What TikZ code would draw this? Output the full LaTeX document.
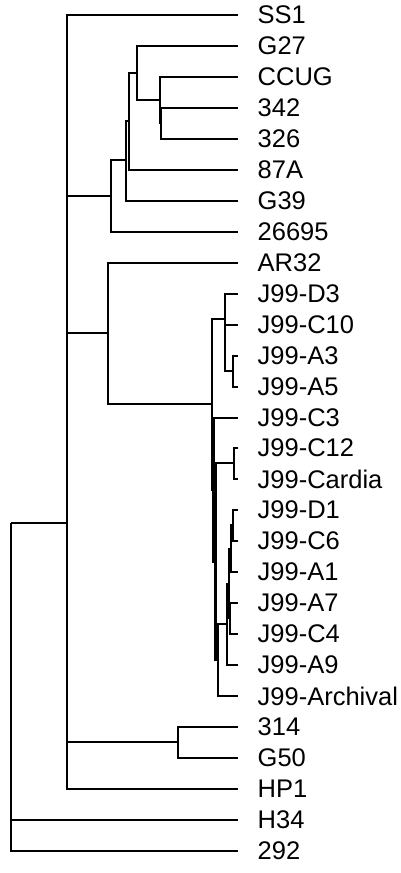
\documentclass[tikz,border=0pt]{standalone}
\usepackage{fontspec}
\setmainfont{Liberation Sans}
\tikzstyle{leaf} = [anchor=west, inner xsep=19.5pt, inner ysep=0pt, font=\fontsize{25.5}{30}\selectfont]
\tikzstyle{branch} = [line width=2.4pt]
\begin{document}
\begin{tikzpicture}[x=1pt, y=-1pt]
    \useasboundingbox (0,0) rectangle (400,873);

    % leaves
    \node (ss1) [leaf] at (238,15) {SS1};
    \node (g27) [leaf] at (238,46) {G27};
    \node (ccug) [leaf] at (238,77) {CCUG};
    \node (s342) [leaf] at (238,108) {342};
    \node (s326) [leaf] at (238,139) {326};
    \node (s87a) [leaf] at (238,170) {87A};
    \node (g39) [leaf] at (238,201) {G39};
    \node (s26695) [leaf] at (238,232) {26695};
    \node (ar32) [leaf] at (238,263) {AR32};
    \node (jd3) [leaf] at (238,294) {J99-D3};
    \node (jc10) [leaf] at (238,325) {J99-C10};
    \node (ja3) [leaf] at (238,356) {J99-A3};
    \node (ja5) [leaf] at (238,387) {J99-A5};
    \node (jc3) [leaf] at (238,418) {J99-C3};
    \node (jc12) [leaf] at (238,448) {J99-C12};
    \node (jcard) [leaf] at (238,479) {J99-Cardia};
    \node (jd1) [leaf] at (238,510) {J99-D1};
    \node (jc6) [leaf] at (238,541) {J99-C6};
    \node (ja1) [leaf] at (238,572) {J99-A1};
    \node (ja7) [leaf] at (238,603) {J99-A7};
    \node (jc4) [leaf] at (238,634) {J99-C4};
    \node (ja9) [leaf] at (238,665) {J99-A9};
    \node (jarch) [leaf] at (238,696) {J99-Archival};
    \node (s314) [leaf] at (238,727) {314};
    \node (g50) [leaf] at (238,758) {G50};
    \node (hp1) [leaf] at (238,789) {HP1};
    \node (h34) [leaf] at (238,820) {H34};
    \node (s292) [leaf] at (238,851) {292};

    % internal nodes
    \coordinate (root) at (11,523);
    \coordinate (nA) at (67,523);
    \coordinate (nB) at (111,196);
    \coordinate (nE1) at (126,160);
    \coordinate (nE2) at (129,121);
    \coordinate (nF) at (137,73);
    \coordinate (nG) at (160,100);
    \coordinate (nG2) at (161,123);
    \coordinate (nC) at (108,333);
    \coordinate (nH) at (212,404);
    \coordinate (nJ1) at (225,319);
    \coordinate (nJ3) at (233,371);
    \coordinate (nH2) at (213.5,490);
    \coordinate (nH2b) at (215.5,562);
    \coordinate (nK) at (234,463);
    \coordinate (nH3) at (218,660);
    \coordinate (nL) at (227,624);
    \coordinate (nM) at (229,584);
    \coordinate (nO) at (230,618);
    \coordinate (nP2) at (231,549);
    \coordinate (nP) at (233,525);
    \coordinate (nD) at (178,742);

    % branches
    \draw [branch] (root) -- (nA);
    \draw [branch] (root) |- (h34);
    \draw [branch] (root) |- (s292);
    \draw [branch] (nA) |- (ss1);
    \draw [branch] (nA) |- (nB);
    \draw [branch] (nA) |- (nC);
    \draw [branch] (nA) |- (nD);
    \draw [branch] (nA) |- (hp1);
    \draw [branch] (nB) |- (nE1);
    \draw [branch] (nB) |- (s26695);
    \draw [branch] (nE1) |- (nE2);
    \draw [branch] (nE1) |- (g39);
    \draw [branch] (nE2) |- (nF);
    \draw [branch] (nE2) |- (s87a);
    \draw [branch] (nF) |- (g27);
    \draw [branch] (nF) |- (nG);
    \draw [branch] (nG) |- (ccug);
    \draw [branch] (nG) |- (nG2);
    \draw [branch] (nG2) |- (s342);
    \draw [branch] (nG2) |- (s326);
    \draw [branch] (nC) |- (ar32);
    \draw [branch] (nC) |- (nH);
    \draw [branch] (nH) |- (nJ1);
    \draw [branch] (nH) |- (nH2);
    \draw [branch] (nJ1) |- (jd3);
    \draw [branch] (nJ1) |- (jc10);
    \draw [branch] (nJ1) |- (nJ3);
    \draw [branch] (nJ3) |- (ja3);
    \draw [branch] (nJ3) |- (ja5);
    \draw [branch] (nH2) |- (jc3);
    \draw [branch] (nH2) |- (nH2b);
    \draw [branch] (nH2b) |- (nK);
    \draw [branch] (nH2b) |- (nH3);
    \draw [branch] (nK) |- (jc12);
    \draw [branch] (nK) |- (jcard);
    \draw [branch] (nH3) |- (nL);
    \draw [branch] (nH3) |- (jarch);
    \draw [branch] (nL) |- (nM);
    \draw [branch] (nL) |- (ja9);
    \draw [branch] (nM) |- (nP2);
    \draw [branch] (nM) |- (nO);
    \draw [branch] (nP2) |- (nP);
    \draw [branch] (nP2) |- (ja1);
    \draw [branch] (nP) |- (jd1);
    \draw [branch] (nP) |- (jc6);
    \draw [branch] (nO) |- (ja7);
    \draw [branch] (nO) |- (jc4);
    \draw [branch] (nD) |- (s314);
    \draw [branch] (nD) |- (g50);
\end{tikzpicture}
\end{document}
